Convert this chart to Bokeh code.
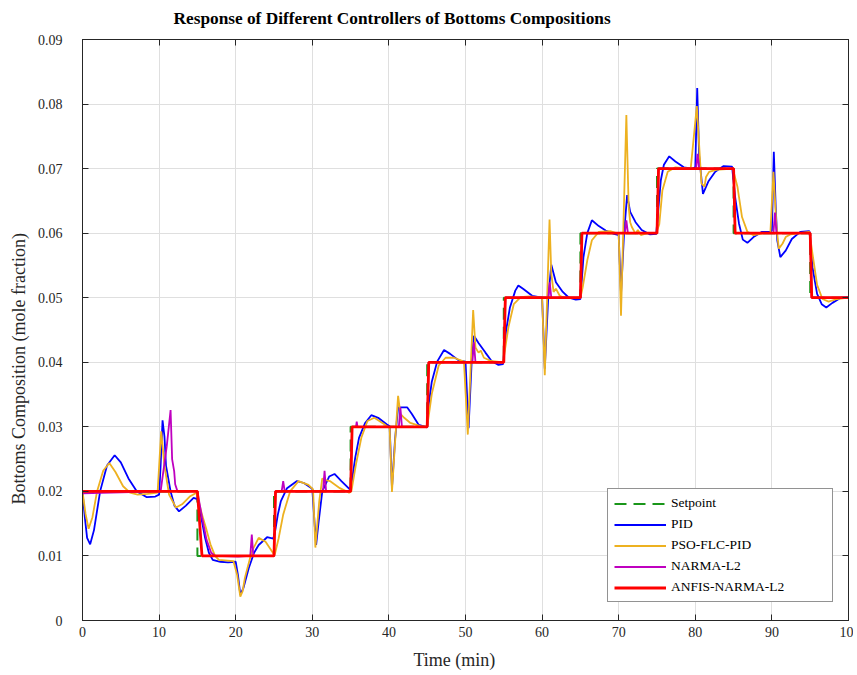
from bokeh.plotting import figure
from bokeh.models import LinearAxis, FixedTicker, Range1d, Legend, LegendItem, Title
from bokeh.embed import file_html
from bokeh.resources import INLINE

# ---------------- data ----------------
setpoint_t = [0, 15, 15, 25, 25, 35, 35, 45, 45, 55, 55, 65, 65, 75, 75, 85, 85, 95, 95, 100]
setpoint_v = [0.02, 0.02, 0.01, 0.01, 0.02, 0.02, 0.03, 0.03, 0.04, 0.04, 0.05, 0.05,
              0.06, 0.06, 0.07, 0.07, 0.06, 0.06, 0.05, 0.05]

pid_t = [0, 0.3, 0.6, 1.0, 1.5, 2.3, 3.2, 4.2, 5.0, 6.0, 7.1, 8.4, 9.5, 10.0, 10.2, 10.45, 10.7,
         10.9, 11.5, 12.0, 12.6, 13.5, 14.5, 15.0, 15.5, 16.0, 16.5, 17.0, 18.0, 19.0, 20.0, 20.3,
         20.6, 21.0, 21.7, 22.4, 23.0, 24.1, 24.9, 25.1, 25.5, 25.9, 26.7, 28.0, 28.9, 30.0, 30.3,
         30.5, 30.8, 31.3, 32.2, 32.9, 33.8, 34.9, 35.1, 35.6, 36.1, 36.9, 37.7, 38.6, 39.7, 40.1,
         40.4, 40.8, 41.2, 42.4, 43.0, 43.9, 45.0, 45.2, 45.6, 46.3, 47.2, 48.0, 49.1, 50.0, 50.4,
         50.8, 51.1, 51.7, 52.6, 53.4, 54.3, 54.9, 55.3, 55.8, 56.5, 56.9, 57.6, 58.7, 60.0, 60.35,
         60.8, 61.2, 61.8, 62.7, 63.5, 64.4, 65.0, 65.4, 65.9, 66.5, 67.4, 68.3, 69.4, 70.0, 70.3,
         70.7, 71.1, 71.5, 72.2, 73.0, 74.1, 74.9, 75.5, 75.9, 76.6, 77.4, 78.5, 79.6, 80.0, 80.25,
         80.5, 81.0, 81.7, 82.6, 83.7, 84.8, 85.2, 85.7, 86.2, 86.8, 87.6, 88.7, 89.8, 90.0, 90.25,
         90.5, 90.7, 91.1, 91.8, 92.6, 93.7, 94.9, 95.3, 95.9, 96.5, 97.1, 97.9, 99.0, 100]
pid_v = [0.0200, 0.0160, 0.0128, 0.0118, 0.0140, 0.0200, 0.0240, 0.0256, 0.0245, 0.0220, 0.0200,
         0.0191, 0.0192, 0.0195, 0.0240, 0.0310, 0.0285, 0.0240, 0.0200, 0.0178, 0.0169, 0.0178,
         0.0190, 0.0188, 0.0160, 0.0128, 0.0105, 0.0094, 0.0091, 0.0090, 0.0091, 0.0070, 0.0040,
         0.0050, 0.0081, 0.0105, 0.0117, 0.0129, 0.0127, 0.0135, 0.0164, 0.0185, 0.0205, 0.0216,
         0.0213, 0.0204, 0.0150, 0.0117, 0.0150, 0.0200, 0.0223, 0.0227, 0.0216, 0.0203, 0.0210,
         0.0252, 0.0283, 0.0306, 0.0318, 0.0314, 0.0304, 0.0301, 0.0205, 0.0280, 0.0330, 0.0330,
         0.0320, 0.0303, 0.0299, 0.0335, 0.0370, 0.0401, 0.0419, 0.0413, 0.0403, 0.0401, 0.0298,
         0.0400, 0.0441, 0.0430, 0.0415, 0.0402, 0.0396, 0.0397, 0.0449, 0.0485, 0.0511, 0.0519,
         0.0513, 0.0503, 0.0500, 0.0390, 0.0500, 0.0551, 0.0524, 0.0509, 0.0500, 0.0497, 0.0498,
         0.0563, 0.0600, 0.0620, 0.0611, 0.0604, 0.0599, 0.0597, 0.0505, 0.0600, 0.0659, 0.0633,
         0.0617, 0.0605, 0.0598, 0.0599, 0.0682, 0.0706, 0.0719, 0.0711, 0.0702, 0.0700, 0.0702,
         0.0825, 0.0720, 0.0661, 0.0680, 0.0695, 0.0704, 0.0703, 0.0656, 0.0615, 0.0590, 0.0585,
         0.0594, 0.0602, 0.0602, 0.0604, 0.0726, 0.0640, 0.0589, 0.0563, 0.0573, 0.0591, 0.0602,
         0.0603, 0.0547, 0.0506, 0.0490, 0.0485, 0.0492, 0.0500, 0.0501]

pso_t = [0, 0.4, 0.8, 1.3, 1.9, 2.7, 3.5, 4.3, 5.3, 6.2, 7.2, 8.5, 9.8, 10.27, 10.7, 11.3, 12.2,
         13.0, 14.0, 14.9, 15.6, 16.2, 16.7, 17.3, 17.8, 19.7, 20.2, 20.6, 20.9, 21.2, 22.1, 23.0,
         23.9, 24.9, 25.1, 25.6, 26.2, 27.1, 28.2, 29.5, 30.1, 30.4, 30.9, 31.3, 31.6, 32.3, 33.6,
         34.8, 35.1, 35.7, 36.4, 37.2, 38.1, 39.4, 40.1, 40.4, 40.9, 41.2, 41.5, 42.0, 42.8, 44.1,
         45.0, 45.6, 46.5, 47.4, 48.5, 49.8, 50.3, 51.0, 51.3, 51.7, 52.0, 52.4, 53.3, 54.9, 55.6,
         56.3, 57.2, 58.3, 60.0, 60.35, 60.97, 61.2, 61.5, 61.8, 62.3, 62.9, 65.0, 65.3, 65.9,
         66.5, 67.4, 68.9, 70.0, 70.3, 71.0, 71.3, 71.5, 71.7, 72.2, 72.5, 72.9, 73.7, 74.9, 75.3,
         75.7, 76.4, 77.4, 79.4, 80.2, 80.8, 81.2, 81.4, 81.8, 82.7, 84.9, 85.5, 86.1, 86.8, 87.6,
         88.9, 89.8, 90.2, 90.6, 90.9, 91.4, 91.8, 92.4, 94.9, 95.3, 95.9, 96.6, 97.4, 98.5, 100]
pso_v = [0.0200, 0.0165, 0.0142, 0.0160, 0.0200, 0.0232, 0.0244, 0.0230, 0.0208, 0.0198, 0.0195,
         0.0196, 0.0198, 0.0293, 0.0240, 0.0195, 0.0175, 0.0180, 0.0192, 0.0198, 0.0164, 0.0140,
         0.0118, 0.0100, 0.0094, 0.0092, 0.0070, 0.0037, 0.0045, 0.0066, 0.0107, 0.0128, 0.0122,
         0.0104, 0.0102, 0.0127, 0.0164, 0.0200, 0.0216, 0.0210, 0.0203, 0.0113, 0.0184, 0.0220,
         0.0218, 0.0216, 0.0205, 0.0198, 0.0200, 0.0242, 0.0283, 0.0309, 0.0314, 0.0304, 0.0298,
         0.0199, 0.0294, 0.0348, 0.0320, 0.0314, 0.0306, 0.0301, 0.0300, 0.0351, 0.0395, 0.0407,
         0.0407, 0.0401, 0.0288, 0.0481, 0.0423, 0.0415, 0.0418, 0.0407, 0.0402, 0.0400, 0.0454,
         0.0490, 0.0501, 0.0502, 0.0500, 0.0380, 0.0621, 0.0537, 0.0509, 0.0514, 0.0503, 0.0500,
         0.0500, 0.0516, 0.0558, 0.0589, 0.0602, 0.0603, 0.0599, 0.0472, 0.0783, 0.0641, 0.0617,
         0.0610, 0.0599, 0.0605, 0.0597, 0.0600, 0.0600, 0.0614, 0.0666, 0.0695, 0.0702, 0.0700,
         0.0797, 0.0677, 0.0672, 0.0687, 0.0695, 0.0698, 0.0700, 0.0672, 0.0625, 0.0602, 0.0597,
         0.0600, 0.0600, 0.0695, 0.0610, 0.0576, 0.0584, 0.0594, 0.0598, 0.0602, 0.0568, 0.0520,
         0.0498, 0.0494, 0.0498, 0.0500]

narma_t = [0, 10.2, 11.0, 11.5, 11.7, 11.97, 12.1, 12.4, 15.0, 15.6, 16.2, 16.8, 17.3, 20.3, 21.9,
           22.1, 22.3, 25.0, 25.2, 26.0, 26.2, 26.4, 31.4, 31.6, 31.8, 35.0, 35.2, 35.7, 35.8, 35.9,
           41.3, 41.5, 41.7, 45.0, 45.2, 50.9, 51.1, 51.3, 55.0, 55.2, 60.8, 61.0, 61.2, 65.0, 65.2,
           70.8, 71.0, 71.2, 75.0, 75.2, 80.1, 80.3, 80.5, 85.0, 85.2, 90.2, 90.4, 90.6, 95.0, 95.2,
           100]
narma_v = [0.0197, 0.0200, 0.0270, 0.0326, 0.0250, 0.0231, 0.0211, 0.0200, 0.0200, 0.0160, 0.0125,
           0.0105, 0.0100, 0.0099, 0.0100, 0.0133, 0.0100, 0.0100, 0.0200, 0.0200, 0.0216, 0.0200,
           0.0200, 0.0232, 0.0200, 0.0200, 0.0300, 0.0300, 0.0308, 0.0300, 0.0300, 0.0330, 0.0300,
           0.0300, 0.0400, 0.0400, 0.0431, 0.0400, 0.0400, 0.0500, 0.0500, 0.0524, 0.0500, 0.0500,
           0.0600, 0.0600, 0.0620, 0.0600, 0.0600, 0.0700, 0.0700, 0.0723, 0.0700, 0.0700, 0.0600,
           0.0600, 0.0632, 0.0600, 0.0600, 0.0500, 0.0500]

anfis_t = [0, 15.0, 15.6, 25.0, 25.2, 35.0, 35.2, 45.0, 45.2, 55.0, 55.2, 65.0, 65.2, 75.0, 75.2,
           85.0, 85.2, 95.0, 95.2, 100]
anfis_v = [0.0200, 0.0200, 0.0100, 0.0100, 0.0200, 0.0200, 0.0300, 0.0300, 0.0400, 0.0400, 0.0500,
           0.0500, 0.0600, 0.0600, 0.0700, 0.0700, 0.0600, 0.0600, 0.0500, 0.0500]

x_ticks = [0, 10, 20, 30, 40, 50, 60, 70, 80, 90, 100]
x_tick_labels = ["0", "10", "20", "30", "40", "50", "60", "70", "80", "90", "10"]
y_ticks = [0, 0.01, 0.02, 0.03, 0.04, 0.05, 0.06, 0.07, 0.08, 0.09]
y_tick_labels = ["0", "0.01", "0.02", "0.03", "0.04", "0.05", "0.06", "0.07", "0.08", "0.09"]

series_names = ["Setpoint", "PID", "PSO-FLC-PID", "NARMA-L2", "ANFIS-NARMA-L2"]
title_text = "Response of Different Controllers of Bottoms Compositions"
x_label_text = "Time (min)"
y_label_text = "Bottoms Composition (mole fraction)"

# ---------------- figure ----------------
FONT = "Liberation Serif"
TXT = "#262626"

p = figure(width=853, height=670, output_backend="svg", toolbar_location=None,
           x_range=Range1d(0, 100), y_range=Range1d(0, 0.09),
           min_border_left=81, min_border_right=5, min_border_top=39, min_border_bottom=50,
           background_fill_color="white", border_fill_color="white")

p.title.text = title_text
p.title.text_font = FONT
p.title.text_font_size = "17.3px"
p.title.text_font_style = "bold"
p.title.text_color = "black"
p.title.align = "left"
p.title.offset = 91
p.title.standoff = 0

p.outline_line_color = TXT
p.outline_line_width = 1

for ax in (p.xaxis[0], p.yaxis[0]):
    ax.major_label_text_font = FONT
    ax.major_label_text_font_size = "14px"
    ax.major_label_text_color = TXT
    ax.major_tick_in = 6
    ax.major_tick_out = 0
    ax.minor_tick_line_color = None
    ax.axis_line_color = TXT
    ax.major_tick_line_color = TXT

p.xaxis[0].ticker = FixedTicker(ticks=x_ticks)
p.xaxis[0].major_label_overrides = dict(zip(x_ticks, x_tick_labels))
p.xaxis[0].major_label_standoff = 6

p.yaxis[0].ticker = FixedTicker(ticks=y_ticks)
p.yaxis[0].major_label_overrides = dict(zip(y_ticks, y_tick_labels))
p.yaxis[0].major_label_standoff = 20


def box_axis(ticks):
    ax = LinearAxis(ticker=FixedTicker(ticks=ticks),
                    major_label_overrides={t: "" for t in ticks})
    ax.major_tick_in = 6
    ax.major_tick_out = 0
    ax.minor_tick_line_color = None
    ax.axis_line_color = TXT
    ax.major_tick_line_color = TXT
    ax.major_label_standoff = 0
    return ax


def spacer_axis(ticks, gap):
    # invisible axis used only to reserve space between an axis and a title
    ax = LinearAxis(ticker=FixedTicker(ticks=ticks),
                    major_label_overrides={t: "" for t in ticks})
    ax.major_tick_in = 0
    ax.major_tick_out = gap
    ax.minor_tick_line_color = None
    ax.axis_line_color = None
    ax.major_tick_line_color = None
    ax.major_label_standoff = 0
    return ax


p.add_layout(box_axis(x_ticks), "above")
p.add_layout(spacer_axis(x_ticks, 12), "above")
p.add_layout(box_axis(y_ticks), "right")
p.add_layout(spacer_axis(x_ticks, 8), "below")

# axis titles as side titles, offset along the axis as in the reference
ylab = Title(text=y_label_text, align="left", offset=116, standoff=12,
             text_font=FONT, text_font_size="18px", text_font_style="normal", text_color=TXT)
xlab = Title(text=x_label_text, align="left", offset=331, standoff=0,
             text_font=FONT, text_font_size="18px", text_font_style="normal", text_color=TXT)
p.add_layout(ylab, "left")
p.add_layout(xlab, "below")

p.xgrid.ticker = FixedTicker(ticks=x_ticks)
p.ygrid.ticker = FixedTicker(ticks=y_ticks)
for g in (p.xgrid[0], p.ygrid[0]):
    g.grid_line_color = "#dfdfdf"
    g.grid_line_width = 1

r_sp = p.line(setpoint_t, setpoint_v, line_color="#1a961a", line_width=2, line_dash="12 7")
r_pid = p.line(pid_t, pid_v, line_color="#0000ff", line_width=1.8)
r_pso = p.line(pso_t, pso_v, line_color="#edb120", line_width=1.8)
r_nar = p.line(narma_t, narma_v, line_color="#bf00bf", line_width=1.8)
r_anf = p.line(anfis_t, anfis_v, line_color="#ff0000", line_width=2.8)

legend = Legend(items=[LegendItem(label=n, renderers=[r]) for n, r in
                       zip(series_names, [r_sp, r_pid, r_pso, r_nar, r_anf])],
                location=(525, 18))
legend.label_text_font = FONT
legend.label_text_font_size = "13.5px"
legend.label_text_color = "black"
legend.glyph_width = 52
legend.glyph_height = 15
legend.label_height = 15
legend.label_width = 155
legend.label_standoff = 5
legend.spacing = 5
legend.padding = 6
legend.margin = 0
legend.border_line_color = TXT
legend.border_line_width = 1
legend.background_fill_alpha = 1
p.add_layout(legend, "center")

open("out.html", "w").write(file_html(p, INLINE))
